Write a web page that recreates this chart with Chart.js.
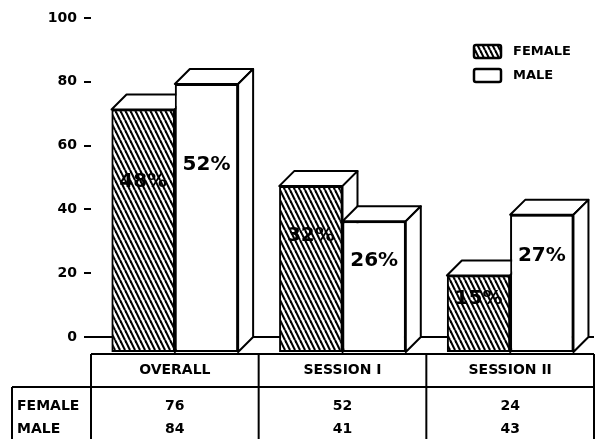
<!DOCTYPE html>
<html>
<head>
<meta charset="utf-8">
<script src="https://cdn.jsdelivr.net/npm/chart.js@4.4.1/dist/chart.umd.min.js"></script>
<style>
html, body { margin: 0; padding: 0; background: #fff; }
</style>
</head>
<body>
<canvas id="chart" width="596" height="439"></canvas>
<script>
var categories = ['OVERALL', 'SESSION I', 'SESSION II'];
var seriesNames = ['FEMALE', 'MALE'];
var femaleCounts = [76, 52, 24];
var maleCounts = [84, 41, 43];
var femalePct = ['48%', '32%', '15%'];
var malePct = ['52%', '26%', '27%'];
var yTicks = [0, 20, 40, 60, 80, 100];

var FONT = 'DejaVu Sans';

// steep diagonal hatch for the female bars
function makeHatch() {
    var c = document.createElement('canvas');
    c.width = 5; c.height = 10;
    var g = c.getContext('2d');
    g.fillStyle = '#fff';
    g.fillRect(0, 0, 5, 10);
    g.strokeStyle = '#000';
    g.lineWidth = 2.1;
    for (var k = -1; k <= 1; k++) {
        g.beginPath();
        g.moveTo(k * 5, 0);
        g.lineTo(k * 5 + 5, 10);
        g.stroke();
    }
    return document.getElementById('chart').getContext('2d').createPattern(c, 'repeat');
}
var hatch = makeHatch();

function line(ctx, x1, y1, x2, y2) {
    ctx.beginPath();
    ctx.moveTo(x1, y1);
    ctx.lineTo(x2, y2);
    ctx.stroke();
}

function poly(ctx, pts, fill) {
    ctx.beginPath();
    ctx.moveTo(pts[0][0], pts[0][1]);
    for (var i = 1; i < pts.length; i++) ctx.lineTo(pts[i][0], pts[i][1]);
    ctx.closePath();
    ctx.fillStyle = fill;
    ctx.fill();
    ctx.stroke();
}

var boxes3d = {
    id: 'boxes3d',
    beforeDatasetsDraw: function (chart) {
        // back floor line at the 0 of the back plane
        var ctx = chart.ctx, a = chart.chartArea;
        var y0 = chart.scales.yb.getPixelForValue(0);
        ctx.save();
        ctx.strokeStyle = '#000';
        ctx.lineWidth = 2;
        line(ctx, a.left - 6, y0, a.right, y0);
        ctx.restore();
    },
    afterDatasetsDraw: function (chart) {
        var ctx = chart.ctx;
        var dep = chart.scales.y.getPixelForValue(0) - chart.scales.yb.getPixelForValue(0);
        var pcts = [femalePct, malePct];
        ctx.save();
        ctx.lineJoin = 'round';
        for (var i = 0; i < categories.length; i++) {
            for (var d = 0; d < chart.data.datasets.length; d++) {
                var bar = chart.getDatasetMeta(d).data[i];
                var p = bar.getProps(['x', 'y', 'base', 'width'], true);
                var l = p.x - p.width / 2, r = p.x + p.width / 2;
                bar.draw(ctx);
                ctx.strokeStyle = '#000';
                ctx.lineWidth = 2;
                poly(ctx, [[l, p.y], [l + dep, p.y - dep], [r + dep, p.y - dep], [r, p.y]], '#fff');
                poly(ctx, [[r, p.y], [r + dep, p.y - dep], [r + dep, p.base - dep], [r, p.base]], '#fff');
            }
        }
        ctx.fillStyle = '#000';
        ctx.font = 'bold 20px "' + FONT + '"';
        ctx.textAlign = 'center';
        ctx.textBaseline = 'middle';
        for (var d2 = 0; d2 < 2; d2++) {
            chart.getDatasetMeta(d2).data.forEach(function (bar, i) {
                var p = bar.getProps(['x', 'y', 'base'], true);
                ctx.fillText(pcts[d2][i], p.x, p.y + (p.base - p.y) * 0.3);
            });
        }
        ctx.restore();
    },
    afterDraw: function (chart) {
        var ctx = chart.ctx, a = chart.chartArea, xs = chart.scales.x;
        var colW = (a.right - a.left) / categories.length;
        var t0 = a.bottom + 2, t1 = t0 + 33, bottom = chart.height;
        var labelLeft = 12;
        ctx.save();
        ctx.strokeStyle = '#000';
        ctx.lineWidth = 2;
        line(ctx, a.left, t0, a.right, t0);
        line(ctx, labelLeft, t1, a.right, t1);
        line(ctx, labelLeft, t1, labelLeft, bottom);
        for (var i = 0; i <= categories.length; i++) {
            line(ctx, a.left + i * colW, t0, a.left + i * colW, bottom);
        }
        ctx.fillStyle = '#000';
        ctx.font = 'bold 14px "' + FONT + '"';
        ctx.textBaseline = 'middle';
        ctx.textAlign = 'center';
        var rows = [femaleCounts, maleCounts];
        categories.forEach(function (c, i) {
            var cx = xs.getPixelForValue(i);
            ctx.fillText(c, cx, (t0 + t1) / 2);
            ctx.fillText(String(rows[0][i]), cx, t1 + 19);
            ctx.fillText(String(rows[1][i]), cx, t1 + 42);
        });
        ctx.textAlign = 'left';
        ctx.fillText(seriesNames[0], labelLeft + 5, t1 + 19);
        ctx.fillText(seriesNames[1], labelLeft + 5, t1 + 42);

        // legend
        var lx = a.right - 120, ly = a.top + 27;
        ctx.font = 'bold 13px "' + FONT + '"';
        ctx.lineWidth = 2.5;
        [hatch, '#fff'].forEach(function (f, k) {
            var by = ly + k * 24;
            ctx.beginPath();
            ctx.roundRect(lx, by, 27, 13, 2);
            ctx.fillStyle = f;
            ctx.fill();
            ctx.stroke();
            ctx.fillStyle = '#000';
            ctx.fillText(seriesNames[k], lx + 39, by + 7);
        });
        ctx.restore();
    }
};

new Chart(document.getElementById('chart'), {
    type: 'bar',
    data: {
        labels: categories,
        datasets: [
            {
                label: seriesNames[0],
                data: femaleCounts,
                backgroundColor: hatch,
                borderColor: '#000',
                borderWidth: 2,
                borderSkipped: false,
                categoryPercentage: 0.755,
                barPercentage: 1
            },
            {
                label: seriesNames[1],
                data: maleCounts,
                backgroundColor: '#fff',
                borderColor: '#000',
                borderWidth: 2,
                borderSkipped: false,
                categoryPercentage: 0.755,
                barPercentage: 1
            }
        ]
    },
    options: {
        responsive: false,
        animation: false,
        layout: { padding: { top: 18, bottom: 87, left: 0, right: 2 } },
        plugins: { legend: { display: false }, tooltip: { enabled: false } },
        scales: {
            x: { display: false },
            y: { display: false, min: 0, max: 104.7 },
            yb: {
                position: 'left',
                min: -4.7,
                max: 100,
                afterBuildTicks: function (s) {
                    s.ticks = yTicks.map(function (v) { return { value: v }; });
                },
                afterFit: function (s) { s.width = 91; },
                grid: { drawOnChartArea: false, drawTicks: true, tickLength: 7, color: '#000', lineWidth: 2 },
                border: { display: false },
                ticks: { color: '#000', padding: 7, font: { family: FONT, weight: 'bold', size: 14 } }
            }
        }
    },
    plugins: [boxes3d]
});
</script>
</body>
</html>
